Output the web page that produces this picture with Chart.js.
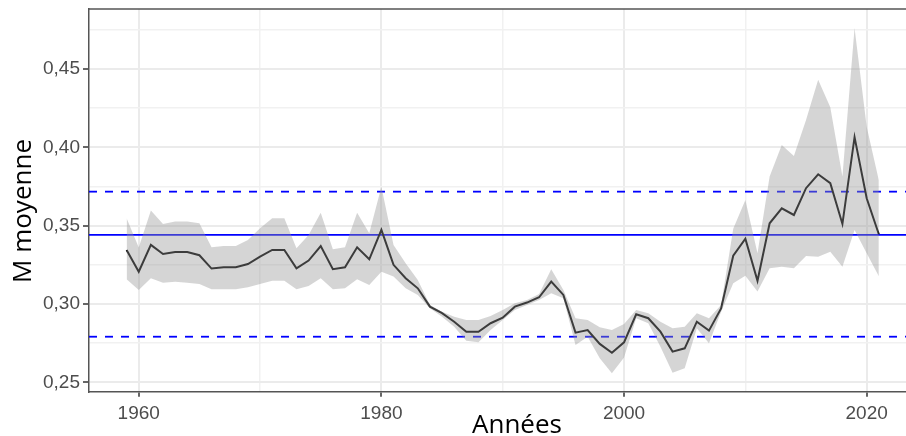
<!DOCTYPE html>
<html>
<head>
<meta charset="utf-8">
<script src="https://cdn.jsdelivr.net/npm/chart.js@4/dist/chart.umd.min.js"></script>
<style>
html,body{margin:0;padding:0;background:#fff;}
#wrap{width:906px;height:436px;position:relative;overflow:hidden;}
</style>
</head>
<body>
<div id="wrap"><canvas id="c" width="906" height="436"></canvas></div>
<script>
const years = [];
for (let y = 1959; y <= 2021; y++) years.push(y);

const meanM = [0.3345,0.3206,0.3377,0.3319,0.3332,0.3332,0.3311,0.3226,0.3234,0.3234,
  0.3255,0.3302,0.3345,0.3345,0.3228,0.3277,0.3370,0.3222,0.3234,0.3362,
  0.3285,0.3473,0.3250,0.3164,0.3100,0.2983,0.2941,0.2887,0.2823,0.2823,
  0.2877,0.2912,0.2983,0.3009,0.3043,0.3143,0.3058,0.2817,0.2834,0.2745,
  0.2689,0.2755,0.2934,0.2909,0.2823,0.2696,0.2717,0.2887,0.2830,0.2972,
  0.3308,0.3417,0.3148,0.3515,0.3611,0.3568,0.3739,0.3828,0.3771,0.3511,
  0.4065,0.3675,0.3445];

const upperM = [0.3547,0.3360,0.3596,0.3511,0.3526,0.3526,0.3515,0.3362,0.3370,0.3370,
  0.3409,0.3483,0.3547,0.3547,0.3356,0.3441,0.3583,0.3349,0.3362,0.3583,
  0.3451,0.3749,0.3377,0.3260,0.3153,0.2994,0.2951,0.2919,0.2898,0.2898,
  0.2923,0.2962,0.3004,0.3026,0.3064,0.3222,0.3089,0.2909,0.2898,0.2851,
  0.2834,0.2872,0.2962,0.2941,0.2887,0.2845,0.2855,0.2941,0.2909,0.2994,
  0.3480,0.3664,0.3324,0.3813,0.4015,0.3945,0.4175,0.4431,0.4256,0.3813,
  0.4761,0.4132,0.3790];

const lowerM = [0.3158,0.3089,0.3164,0.3136,0.3142,0.3136,0.3128,0.3094,0.3094,0.3094,
  0.3107,0.3128,0.3149,0.3149,0.3094,0.3115,0.3164,0.3094,0.3100,0.3158,
  0.3121,0.3206,0.3175,0.3100,0.3058,0.2972,0.2919,0.2855,0.2765,0.2755,
  0.2834,0.2898,0.2962,0.2994,0.3026,0.3068,0.3036,0.2738,0.2791,0.2653,
  0.2557,0.2658,0.2909,0.2877,0.2727,0.2561,0.2589,0.2845,0.2749,0.2951,
  0.3132,0.3180,0.3079,0.3228,0.3238,0.3228,0.3306,0.3302,0.3334,0.3238,
  0.3473,0.3324,0.3177];

const refMean = 0.3441;
const refUpper = 0.3717;
const refLower = 0.2791;

const xTicks = [1960, 1970, 1980, 1990, 2000, 2010, 2020];
const xLabelTicks = [1960, 1980, 2000, 2020];
const yTicks = [0.25, 0.275, 0.30, 0.325, 0.35, 0.375, 0.40, 0.425, 0.45, 0.475];
const yLabelTicks = [0.25, 0.30, 0.35, 0.40, 0.45];

const xMin = 1955.9, xMax = 2023.24;
const yMin = 0.2440, yMax = 0.4883;

const pts = arr => arr.map((v, i) => ({x: years[i], y: v}));
const hline = v => [{x: xMin, y: v}, {x: xMax, y: v}];

const isLabelX = v => xLabelTicks.some(t => Math.abs(t - v) < 1e-6);
const isLabelY = v => yLabelTicks.some(t => Math.abs(t - v) < 1e-6);

const framePlugin = {
  id: 'frame',
  afterDraw(chart) {
    const {ctx, chartArea: a} = chart;
    ctx.save();
    ctx.strokeStyle = '#555555';
    ctx.lineWidth = 1.5;
    ctx.beginPath();
    ctx.moveTo(a.left, a.top);
    ctx.lineTo(a.right + 2, a.top);
    ctx.stroke();
    ctx.fillStyle = '#000';
    ctx.font = '26px "Open Sans"';
    ctx.textAlign = 'center';
    ctx.textBaseline = 'alphabetic';
    ctx.fillText('Années', 517, 433);
    ctx.translate(31, 211);
    ctx.rotate(-Math.PI / 2);
    ctx.fillText('M moyenne', 0, 0);
    ctx.restore();
  }
};

new Chart(document.getElementById('c'), {
  type: 'line',
  data: {
    datasets: [
      {data: pts(lowerM), borderWidth: 0, pointRadius: 0, fill: false, borderColor: 'rgba(0,0,0,0)'},
      {data: pts(upperM), borderWidth: 0, pointRadius: 0, fill: '-1', borderColor: 'rgba(0,0,0,0)', backgroundColor: 'rgba(150,150,150,0.40)'},
      {data: pts(meanM), borderWidth: 2, pointRadius: 0, borderColor: '#000000', fill: false},
      {data: hline(refMean), borderWidth: 1.8, pointRadius: 0, borderColor: '#0000ff', fill: false},
      {data: hline(refUpper), borderWidth: 1.8, pointRadius: 0, borderColor: '#0000ff', borderDash: [8, 8], fill: false},
      {data: hline(refLower), borderWidth: 1.8, pointRadius: 0, borderColor: '#0000ff', borderDash: [8, 8], fill: false}
    ]
  },
  options: {
    responsive: false,
    animation: false,
    layout: {padding: {top: 9, right: 0, left: 0, bottom: 0}},
    plugins: {legend: {display: false}, tooltip: {enabled: false}, title: {display: false}},
    elements: {line: {tension: 0}},
    scales: {
      x: {
        type: 'linear',
        min: xMin, max: xMax,
        afterBuildTicks: s => { s.ticks = xTicks.map(v => ({value: v})); },
        afterFit: s => { s.height = 44.3; s.paddingLeft = 0; s.paddingRight = 0; },
        grid: {
          color: ctx => isLabelX(ctx.tick.value) ? '#ebebeb' : '#f1f1f1',
          lineWidth: ctx => isLabelX(ctx.tick.value) ? 2 : 1.5,
          tickColor: ctx => isLabelX(ctx.tick.value) ? '#333333' : 'rgba(0,0,0,0)',
          tickLength: 5,
          tickWidth: 1.5
        },
        border: {display: true, color: '#555555', width: 1.5},
        ticks: {
          autoSkip: false, maxRotation: 0, padding: 6,
          color: '#4d4d4d',
          font: {family: '"Liberation Sans", Arial, sans-serif', size: 19},
          callback: v => isLabelX(v) ? String(v) : ''
        }
      },
      y: {
        type: 'linear',
        min: yMin, max: yMax,
        afterBuildTicks: s => { s.ticks = yTicks.map(v => ({value: v})); },
        afterFit: s => { s.width = 89; s.paddingTop = 0; s.paddingBottom = 0; },
        grid: {
          color: ctx => isLabelY(ctx.tick.value) ? '#ebebeb' : '#f1f1f1',
          lineWidth: ctx => isLabelY(ctx.tick.value) ? 2 : 1.5,
          tickColor: ctx => isLabelY(ctx.tick.value) ? '#333333' : 'rgba(0,0,0,0)',
          tickLength: 6,
          tickWidth: 1.5
        },
        border: {display: true, color: '#555555', width: 1.5},
        ticks: {
          autoSkip: false, padding: 3,
          color: '#4d4d4d',
          font: {family: '"Liberation Sans", Arial, sans-serif', size: 19},
          callback: v => isLabelY(v) ? v.toFixed(2).replace('.', ',') : ''
        }
      }
    }
  },
  plugins: [framePlugin]
});
</script>
</body>
</html>
